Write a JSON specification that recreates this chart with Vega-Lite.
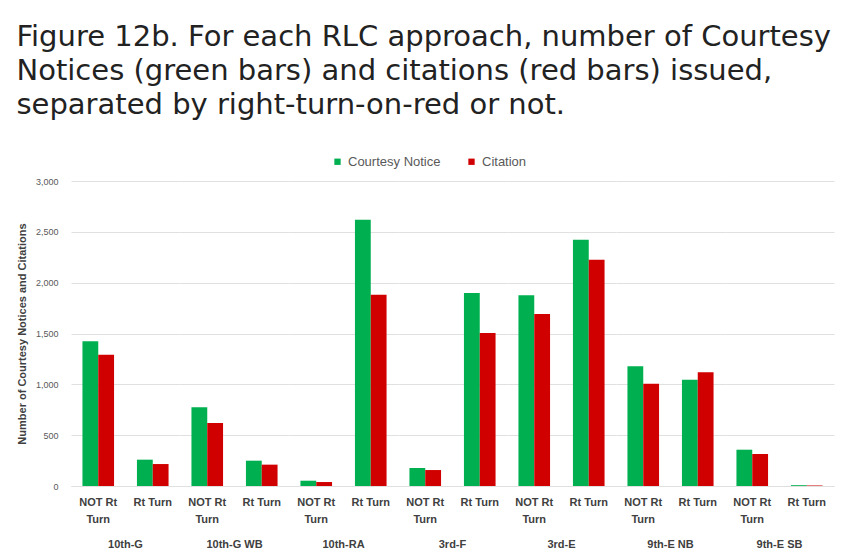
{
  "$schema": "https://vega.github.io/schema/vega-lite/v6.json",
  "background": "white",
  "padding": {"left": 16, "top": 23, "right": 8, "bottom": 2},
  "title": {
    "text": ["Figure 12b. For each RLC approach, number of Courtesy", "Notices (green bars) and citations (red bars) issued,", "separated by right-turn-on-red or not."],
    "anchor": "start",
    "frame": "bounds",
    "font": "DejaVu Sans",
    "fontSize": 29,
    "fontWeight": "normal",
    "color": "#222222",
    "lineHeight": 34,
    "offset": 35
  },
  "data": {
    "values": [
      {"approach": "10th-G", "turn": "NOT Rt Turn", "type": "Courtesy Notice", "count": 1423},
      {"approach": "10th-G", "turn": "NOT Rt Turn", "type": "Citation", "count": 1291},
      {"approach": "10th-G", "turn": "Rt Turn", "type": "Courtesy Notice", "count": 259},
      {"approach": "10th-G", "turn": "Rt Turn", "type": "Citation", "count": 216},
      {"approach": "10th-G WB", "turn": "NOT Rt Turn", "type": "Courtesy Notice", "count": 774},
      {"approach": "10th-G WB", "turn": "NOT Rt Turn", "type": "Citation", "count": 620},
      {"approach": "10th-G WB", "turn": "Rt Turn", "type": "Courtesy Notice", "count": 249},
      {"approach": "10th-G WB", "turn": "Rt Turn", "type": "Citation", "count": 210},
      {"approach": "10th-RA", "turn": "NOT Rt Turn", "type": "Courtesy Notice", "count": 52},
      {"approach": "10th-RA", "turn": "NOT Rt Turn", "type": "Citation", "count": 39},
      {"approach": "10th-RA", "turn": "Rt Turn", "type": "Courtesy Notice", "count": 2620},
      {"approach": "10th-RA", "turn": "Rt Turn", "type": "Citation", "count": 1882},
      {"approach": "3rd-F", "turn": "NOT Rt Turn", "type": "Courtesy Notice", "count": 177},
      {"approach": "3rd-F", "turn": "NOT Rt Turn", "type": "Citation", "count": 157},
      {"approach": "3rd-F", "turn": "Rt Turn", "type": "Courtesy Notice", "count": 1898},
      {"approach": "3rd-F", "turn": "Rt Turn", "type": "Citation", "count": 1505},
      {"approach": "3rd-E", "turn": "NOT Rt Turn", "type": "Courtesy Notice", "count": 1876},
      {"approach": "3rd-E", "turn": "NOT Rt Turn", "type": "Citation", "count": 1692},
      {"approach": "3rd-E", "turn": "Rt Turn", "type": "Courtesy Notice", "count": 2423},
      {"approach": "3rd-E", "turn": "Rt Turn", "type": "Citation", "count": 2226},
      {"approach": "9th-E NB", "turn": "NOT Rt Turn", "type": "Courtesy Notice", "count": 1177},
      {"approach": "9th-E NB", "turn": "NOT Rt Turn", "type": "Citation", "count": 1006},
      {"approach": "9th-E NB", "turn": "Rt Turn", "type": "Courtesy Notice", "count": 1046},
      {"approach": "9th-E NB", "turn": "Rt Turn", "type": "Citation", "count": 1118},
      {"approach": "9th-E SB", "turn": "NOT Rt Turn", "type": "Courtesy Notice", "count": 357},
      {"approach": "9th-E SB", "turn": "NOT Rt Turn", "type": "Citation", "count": 315},
      {"approach": "9th-E SB", "turn": "Rt Turn", "type": "Courtesy Notice", "count": 8},
      {"approach": "9th-E SB", "turn": "Rt Turn", "type": "Citation", "count": 5}
    ]
  },
  "spacing": 0,
  "facet": {
    "column": {
      "field": "approach",
      "type": "nominal",
      "sort": ["10th-G", "10th-G WB", "10th-RA", "3rd-F", "3rd-E", "9th-E NB", "9th-E SB"],
      "header": {
        "title": null,
        "labelOrient": "bottom",
        "labelFont": "Liberation Sans",
        "labelFontSize": 11,
        "labelFontWeight": "bold",
        "labelColor": "#404040",
        "labelPadding": 15
      }
    }
  },
  "spec": {
    "width": 109,
    "height": 305,
    "mark": {"type": "bar"},
    "encoding": {
      "x": {
        "field": "turn",
        "type": "nominal",
        "sort": ["NOT Rt Turn", "Rt Turn"],
        "scale": {"paddingInner": 0.42, "paddingOuter": 0.21},
        "axis": {
          "title": null,
          "labelAngle": 0,
          "labelExpr": "datum.value == 'NOT Rt Turn' ? ['NOT Rt', 'Turn'] : datum.value",
          "labelFont": "Liberation Sans",
          "labelFontSize": 11,
          "labelFontWeight": "bold",
          "labelColor": "#404040",
          "labelLineHeight": 17,
          "ticks": false,
          "labelPadding": 10,
          "domainColor": "#d9d9d9",
          "grid": false
        }
      },
      "xOffset": {"field": "type", "sort": ["Courtesy Notice", "Citation"]},
      "y": {
        "field": "count",
        "type": "quantitative",
        "scale": {"domain": [0, 3000]},
        "axis": {
          "title": "Number of Courtesy Notices and Citations",
          "titleFont": "Liberation Sans",
          "titleFontSize": 11,
          "titleFontWeight": "bold",
          "titleColor": "#404040",
          "titlePadding": 8,
          "values": [0, 500, 1000, 1500, 2000, 2500, 3000],
          "format": ",.0f",
          "labelFont": "Liberation Sans",
          "labelFontSize": 9,
          "labelColor": "#595959",
          "labelPadding": 13,
          "ticks": false,
          "domain": false,
          "gridColor": "#e0e0e0"
        }
      },
      "color": {
        "field": "type",
        "type": "nominal",
        "sort": ["Courtesy Notice", "Citation"],
        "scale": {"domain": ["Courtesy Notice", "Citation"], "range": ["#00b050", "#d00000"]},
        "legend": {
          "title": null,
          "orient": "none",
          "direction": "horizontal",
          "legendX": 260,
          "legendY": -26,
          "symbolType": "square",
          "symbolSize": 40,
          "labelFont": "Liberation Sans",
          "labelFontSize": 13,
          "labelColor": "#595959",
          "columnPadding": 24
        }
      }
    }
  },
  "config": {
    "view": {"stroke": null}
  }
}
